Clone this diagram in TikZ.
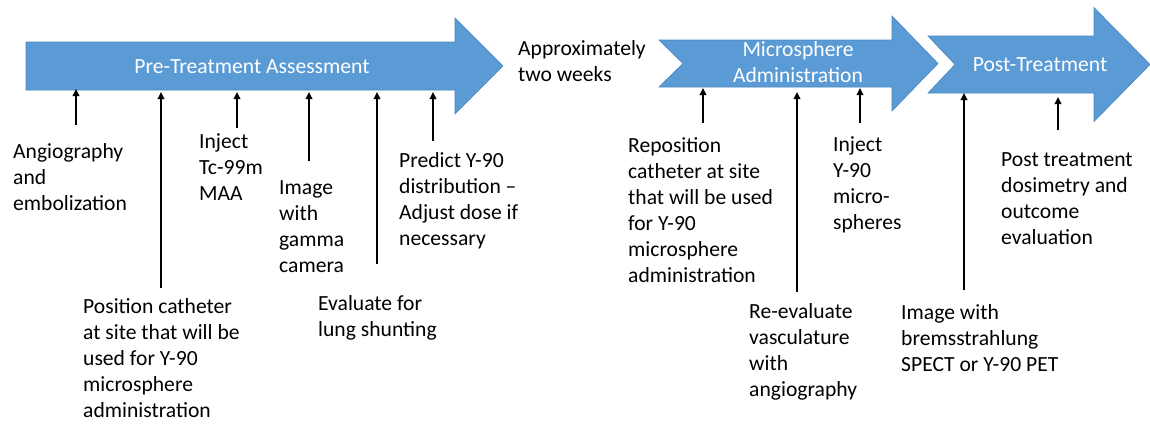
\documentclass[tikz,border=0pt]{standalone}
\usepackage{fontspec}
\setmainfont{Carlito}
\usetikzlibrary{arrows.meta}
\definecolor{boxblue}{HTML}{5B9BD5}
\definecolor{boxline}{HTML}{4A86BE}
\tikzset{
  x=1pt, y=-1pt,
  bigarrow/.style={fill=boxblue, draw=boxline, line width=0.6pt, line join=miter},
  lbl/.style={anchor=north west, inner sep=0pt, align=left, font=\fontsize{21.6}{26}\selectfont},
  wlbl/.style={inner sep=0pt, text=white, font=\fontsize{21.6}{26}\selectfont},
  conn/.style={line width=1.8pt, -{Triangle[length=7pt,width=6.5pt]}}
}
\begin{document}
\begin{tikzpicture}
\useasboundingbox (0,0) rectangle (1150,424);
% big arrows
\path[bigarrow] (26,42) -- (455,42) -- (455,18) -- (503,66) -- (455,114) -- (455,90) -- (26,90) -- cycle;
\path[bigarrow] (659,40) -- (892,40) -- (892,16) -- (938,63.5) -- (892,111) -- (892,87) -- (659,87) -- (683,63.5) -- cycle;
\path[bigarrow] (928,36) -- (1094,36) -- (1094,7.5) -- (1150,64.5) -- (1094,121.5) -- (1094,93) -- (928,93) -- (955,64.5) -- cycle;
% arrow titles
\node[wlbl, anchor=base] (pre) at (252,73) {Pre-Treatment Assessment};
\node[wlbl, anchor=north, align=center] (micro) at (798,38) {\strut Microsphere\\Administration};
\node[wlbl, anchor=base] (post) at (1040,71) {Post-Treatment};
% labels
\node[lbl] (t1) at (13,140) {\strut Angiography\\and\\embolization};
\node[lbl] (t2) at (83,295) {\strut Position catheter\\at site that will be\\used for Y-90\\microsphere\\administration};
\node[lbl] (t3) at (199,130) {\strut Inject\\Tc-99m\\MAA};
\node[lbl] (t4) at (279,176) {\strut Image\\with\\gamma\\camera};
\node[lbl] (t5) at (318,292) {\strut Evaluate for\\lung shunting};
\node[lbl] (t6) at (399,149) {\strut Predict Y-90\\distribution --\\Adjust dose if\\necessary};
\node[lbl] (gap) at (518,37) {\strut Approximately\\two weeks};
\node[lbl] (t7) at (628,134) {\strut Reposition\\catheter at site\\that will be used\\for Y-90\\microsphere\\administration};
\node[lbl] (t8) at (749,300) {\strut Re-evaluate\\vasculature\\with\\angiography};
\node[lbl] (t9) at (833,133) {\strut Inject\\Y-90\\micro-\\spheres};
\node[lbl] (t10) at (901,301) {\strut Image with\\bremsstrahlung\\SPECT or Y-90 PET};
\node[lbl] (t11) at (1001,148) {\strut Post treatment\\dosimetry and\\outcome\\evaluation};
% connector coordinates
\coordinate (s1) at (76,125);   \coordinate (e1) at (76,89);
\coordinate (s2) at (161,288);  \coordinate (e2) at (161,92);
\coordinate (s3) at (237,128);  \coordinate (e3) at (237,92);
\coordinate (s4) at (309,161);  \coordinate (e4) at (309,92);
\coordinate (s5) at (377,264);  \coordinate (e5) at (377,92);
\coordinate (s6) at (433,141);  \coordinate (e6) at (433,92);
\coordinate (s7) at (703,123);  \coordinate (e7) at (703,88);
\coordinate (s8) at (797,292);  \coordinate (e8) at (797,92);
\coordinate (s9) at (860,123);  \coordinate (e9) at (860,88);
\coordinate (s10) at (964,290); \coordinate (e10) at (964,93);
\coordinate (s11) at (1058,130); \coordinate (e11) at (1058,97);
\foreach \i in {1,...,11} { \draw[conn] (s\i) -- (e\i); }
\end{tikzpicture}
\end{document}
